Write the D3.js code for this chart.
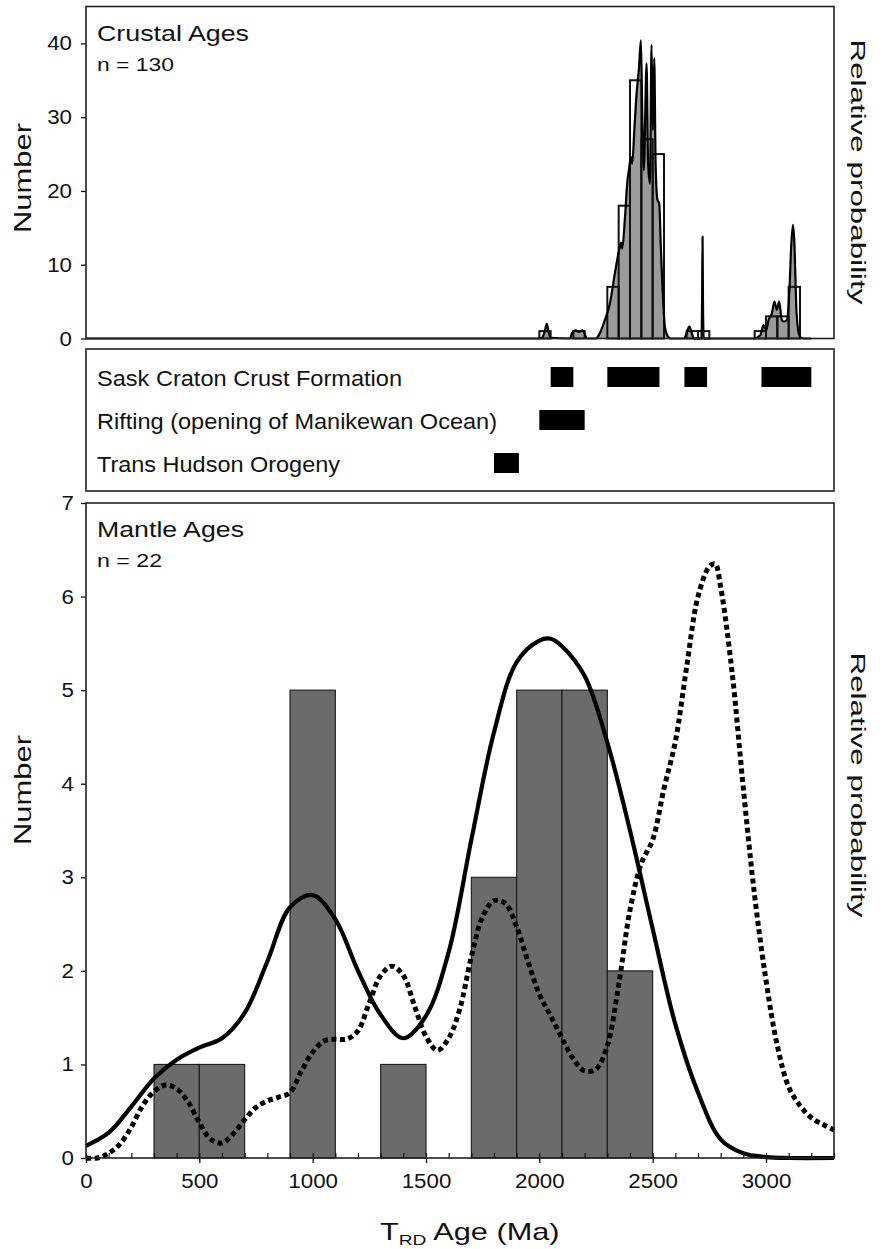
<!DOCTYPE html>
<html>
<head>
<meta charset="utf-8">
<script src="https://cdnjs.cloudflare.com/ajax/libs/d3/7.8.5/d3.min.js"></script>
<style>
  body { margin: 0; background: #fff; }
  text { font-family: "Liberation Sans", Arial, Helvetica, sans-serif; fill: #111; }
</style>
</head>
<body>
<svg id="chart" width="884" height="1249"></svg>
<script>
// ---- Crustal ages: 50 Ma histogram bins ----
const crustBinStart = [2000, 2150, 2300, 2350, 2400, 2450, 2500, 2650, 2700, 2950, 3000, 3050, 3100];
const crustBinCount = [1, 1, 7, 18, 35, 27, 25, 1, 1, 1, 3, 3, 7];
const crustBinWidth = 50;

// ---- Crustal ages: relative probability curve (in count units) ----
const crustProbAge = [0, 1990, 2012, 2024, 2033, 2040, 2050, 2135, 2145, 2160, 2175, 2190, 2200, 2210,
  2250, 2265, 2289, 2311, 2333, 2355, 2361, 2366, 2378, 2389, 2395, 2404, 2410, 2419, 2429, 2439, 2448,
  2454, 2461, 2473, 2480, 2488, 2495, 2501, 2507, 2513, 2521, 2529, 2536, 2547, 2554, 2569, 2580,
  2640, 2650, 2662, 2672, 2682, 2715, 2718, 2720, 2722, 2725,
  2945, 2974, 2989, 3001, 3011, 3026, 3037, 3048, 3058, 3070, 3080, 3092, 3104, 3111, 3119, 3126,
  3133, 3142, 3151, 3165, 3200];
const crustProbValue = [0, 0, 0.1, 1.0, 2.0, 1.0, 0.1, 0, 0.8, 1.1, 0.9, 1.1, 0.6, 0,
  0, 0.6, 2.5, 4.7, 8.8, 12.4, 13.0, 12.2, 16.5, 21.5, 22.8, 24.6, 23.7, 28.2, 33.2, 36.4, 40.4,
  30.5, 22.8, 37.3, 23.7, 21.0, 39.8, 28.2, 38.0, 23.7, 18.8, 18.3, 12.4, 4.7, 1.6, 0.2, 0,
  0, 0.8, 1.6, 0.8, 0, 0, 5, 13.8, 5, 0,
  0, 0.4, 1.8, 1.1, 2.5, 3.4, 5.0, 3.9, 5.0, 2.5, 2.3, 2.5, 7.0, 12.4, 15.4, 12.4,
  4.7, 1.1, 0.2, 0, 0];
const crustTicks = [0, 10, 20, 30, 40];

// ---- Tectonic events (Ma) ----
const eventNames = ["Sask Craton Crust Formation", "Rifting (opening of Manikewan Ocean)", "Trans Hudson Orogeny"];
const eventRow   = [0, 0, 0, 0, 1, 2];
const eventStart = [2050, 2300, 2640, 2980, 2000, 1800];
const eventEnd   = [2150, 2530, 2740, 3200, 2200, 1910];

// ---- Mantle ages: 200 Ma histogram bins ----
const mantleBinStart = [300, 500, 900, 1300, 1700, 1900, 2100, 2300];
const mantleBinCount = [1, 1, 5, 1, 3, 5, 5, 2];
const mantleBinWidth = 200;

// ---- Mantle ages: relative probability curves (in count units) ----
const solidAge = [0, 100, 200, 300, 400, 500, 600, 700, 800, 900, 1000, 1100, 1200, 1300, 1400, 1500,
  1600, 1700, 1800, 1900, 2000, 2050, 2100, 2200, 2300, 2400, 2500, 2600, 2700, 2800, 2900, 3000, 3100, 3300];
const solidProb = [0.13, 0.27, 0.55, 0.85, 1.05, 1.18, 1.28, 1.55, 2.1, 2.68, 2.81, 2.55, 2.0, 1.53, 1.28, 1.52,
  2.2, 3.4, 4.55, 5.3, 5.53, 5.55, 5.47, 5.15, 4.44, 3.5, 2.45, 1.43, 0.7, 0.2, 0.05, 0.01, 0, 0];

const dottedAge = [0, 50, 100, 150, 200, 250, 300, 350, 400, 450, 500, 550, 600, 650, 700, 750, 800, 850,
  900, 950, 1000, 1050, 1100, 1150, 1200, 1250, 1300, 1350, 1400, 1450, 1500, 1550, 1600, 1650, 1700,
  1750, 1800, 1850, 1900, 1950, 2000, 2050, 2100, 2150, 2200, 2250, 2300, 2350, 2400, 2450, 2500, 2550,
  2600, 2650, 2700, 2750, 2775, 2800, 2850, 2900, 2950, 3000, 3050, 3100, 3150, 3200, 3250, 3300];
const dottedProb = [0, 0, 0.05, 0.15, 0.33, 0.56, 0.71, 0.78, 0.74, 0.6, 0.38, 0.2, 0.16, 0.26, 0.41, 0.54,
  0.61, 0.65, 0.7, 0.93, 1.13, 1.25, 1.27, 1.27, 1.36, 1.66, 1.95, 2.05, 1.95, 1.62, 1.3, 1.15, 1.28, 1.6,
  2.15, 2.58, 2.75, 2.72, 2.47, 2.1, 1.75, 1.52, 1.28, 1.06, 0.93, 0.95, 1.2, 1.85, 2.65, 3.15, 3.4, 3.95,
  4.45, 5.25, 6.0, 6.32, 6.35, 6.1, 5.2, 3.95, 2.8, 1.9, 1.2, 0.76, 0.56, 0.43, 0.36, 0.3];

const mantleTicks = [0, 1, 2, 3, 4, 5, 6, 7];
const ageTicks = [0, 500, 1000, 1500, 2000, 2500, 3000];

// ---------------------------------------------------------------
const svg = d3.select("#chart");
const X0 = 86, X1 = 834;
const top1 = 6.5, bot1 = 338.5;     // crustal panel
const top2 = 349, bot2 = 491;       // events panel
const top3 = 503, bot3 = 1158;      // mantle panel
const DIGIT_W = 12.4;

const x = d3.scaleLinear().domain([0, 3300]).range([X0, X1]);
const yCrust = d3.scaleLinear().domain([0, 45]).range([bot1, top1]);
const yMantle = d3.scaleLinear().domain([0, 7]).range([bot3, top3]);
const yEvent = d3.scalePoint().domain(eventNames).range([377, 463]);

// stretched label helper
function label(g, str, px, py, size, len, opts = {}) {
  const t = g.append("text")
    .attr("x", px).attr("y", py)
    .attr("font-size", size)
    .attr("text-anchor", opts.anchor || "start")
    .attr("textLength", len)
    .attr("lengthAdjust", "spacingAndGlyphs")
    .text(str);
  if (opts.transform) t.attr("transform", opts.transform);
  return t;
}

function styleTickText(axisG) {
  axisG.selectAll(".tick text")
    .attr("font-size", 20.5)
    .attr("font-family", "Liberation Sans, Arial, sans-serif")
    .attr("fill", "#111")
    .attr("textLength", function () { return this.textContent.length * DIGIT_W; })
    .attr("lengthAdjust", "spacingAndGlyphs");
  axisG.selectAll(".tick line").attr("stroke", "#111").attr("stroke-width", 1.3);
  axisG.select(".domain").remove();
}

// ================= Crustal panel =================
const gC = svg.append("g");
const areaC = d3.area()
  .x((d, i) => x(crustProbAge[i]))
  .y0(yCrust(0))
  .y1(d => yCrust(d))
  .curve(d3.curveMonotoneX);
const lineC = d3.line()
  .x((d, i) => x(crustProbAge[i]))
  .y(d => yCrust(d))
  .curve(d3.curveMonotoneX);

gC.append("path").datum(crustProbValue)
  .attr("d", areaC).attr("fill", "#9b9b9b").attr("stroke", "none");

gC.selectAll("rect.cbin").data(crustBinStart).join("rect")
  .attr("class", "cbin")
  .attr("x", d => x(d))
  .attr("width", d => x(d + crustBinWidth) - x(d))
  .attr("y", (d, i) => yCrust(crustBinCount[i]))
  .attr("height", (d, i) => yCrust(0) - yCrust(crustBinCount[i]))
  .attr("fill", "none").attr("stroke", "#111").attr("stroke-width", 2);

gC.append("path").datum(crustProbValue)
  .attr("d", lineC).attr("fill", "none").attr("stroke", "#000")
  .attr("stroke-width", 2.2).attr("stroke-linejoin", "round");

const axC = gC.append("g").attr("transform", `translate(${X0},0)`)
  .call(d3.axisLeft(yCrust).tickValues(crustTicks).tickSize(5).tickPadding(9).tickFormat(d3.format("d")));
styleTickText(axC);

gC.append("rect").attr("x", X0).attr("y", top1).attr("width", X1 - X0).attr("height", bot1 - top1)
  .attr("fill", "none").attr("stroke", "#222").attr("stroke-width", 1.6);

label(gC, "Crustal Ages", 97, 40.5, 22, 152);
label(gC, "n = 130", 97, 70.5, 18, 77);
label(gC, "Number", 0, 0, 24, 110, { anchor: "middle", transform: "translate(31,178) rotate(-90)" });
label(gC, "Relative probability", 0, 0, 20, 265, { anchor: "middle", transform: "translate(851,172) rotate(90)" });

// ================= Events panel =================
const gE = svg.append("g");
gE.append("rect").attr("x", X0).attr("y", top2).attr("width", X1 - X0).attr("height", bot2 - top2)
  .attr("fill", "none").attr("stroke", "#222").attr("stroke-width", 1.6);
const evLen = [305, 400, 243];
eventNames.forEach((n, i) => label(gE, n, 97, yEvent(n) + 8.5, 22, evLen[i]));
gE.selectAll("rect.ev").data(eventStart).join("rect")
  .attr("class", "ev")
  .attr("x", d => x(d))
  .attr("width", (d, i) => x(eventEnd[i]) - x(d))
  .attr("y", (d, i) => yEvent(eventNames[eventRow[i]]) - 10)
  .attr("height", 20)
  .attr("fill", "#000");

// ================= Mantle panel =================
const gM = svg.append("g");
gM.selectAll("rect.mbin").data(mantleBinStart).join("rect")
  .attr("class", "mbin")
  .attr("x", d => x(d))
  .attr("width", d => x(d + mantleBinWidth) - x(d))
  .attr("y", (d, i) => yMantle(mantleBinCount[i]))
  .attr("height", (d, i) => yMantle(0) - yMantle(mantleBinCount[i]))
  .attr("fill", "#6b6b6b").attr("stroke", "#1a1a1a").attr("stroke-width", 1.1);

const lineSolid = d3.line()
  .x((d, i) => x(solidAge[i])).y(d => yMantle(d)).curve(d3.curveCatmullRom.alpha(0.5));
const lineDotted = d3.line()
  .x((d, i) => x(dottedAge[i])).y(d => yMantle(d)).curve(d3.curveCatmullRom.alpha(0.5));

gM.append("path").datum(dottedProb).attr("d", lineDotted)
  .attr("fill", "none").attr("stroke", "#000").attr("stroke-width", 5)
  .attr("stroke-dasharray", "5,3.5");
gM.append("path").datum(solidProb).attr("d", lineSolid)
  .attr("fill", "none").attr("stroke", "#000").attr("stroke-width", 4.2);

const axMy = gM.append("g").attr("transform", `translate(${X0},0)`)
  .call(d3.axisLeft(yMantle).tickValues(mantleTicks).tickSize(5).tickPadding(7).tickFormat(d3.format("d")));
styleTickText(axMy);

// minor ticks every 100 Ma, pointing into the plot
const axMinor = gM.append("g").attr("transform", `translate(0,${bot3})`)
  .call(d3.axisBottom(x).tickValues(d3.range(0, 3301, 100)).tickSize(-5).tickFormat(""));
axMinor.selectAll(".tick line").attr("stroke", "#111").attr("stroke-width", 1.2);
axMinor.select(".domain").remove();

const axMx = gM.append("g").attr("transform", `translate(0,${bot3})`)
  .call(d3.axisBottom(x).tickValues(ageTicks).tickSize(5).tickPadding(10).tickFormat(d3.format("d")));
styleTickText(axMx);

gM.append("rect").attr("x", X0).attr("y", top3).attr("width", X1 - X0).attr("height", bot3 - top3)
  .attr("fill", "none").attr("stroke", "#222").attr("stroke-width", 1.6);

label(gM, "Mantle Ages", 97, 537, 22, 147);
label(gM, "n = 22", 97, 567, 18, 65);
label(gM, "Number", 0, 0, 24, 110, { anchor: "middle", transform: "translate(31,790) rotate(-90)" });
label(gM, "Relative probability", 0, 0, 20, 265, { anchor: "middle", transform: "translate(851,785) rotate(90)" });

// x-axis title: T with subscript RD
const xt = gM.append("text").attr("transform", "translate(380,1240) scale(1.28,1)").attr("font-size", 24);
xt.append("tspan").text("T");
xt.append("tspan").attr("font-size", 15).attr("dy", 5).text("RD");
xt.append("tspan").attr("dy", -5).text(" Age (Ma)");
</script>
</body>
</html>
